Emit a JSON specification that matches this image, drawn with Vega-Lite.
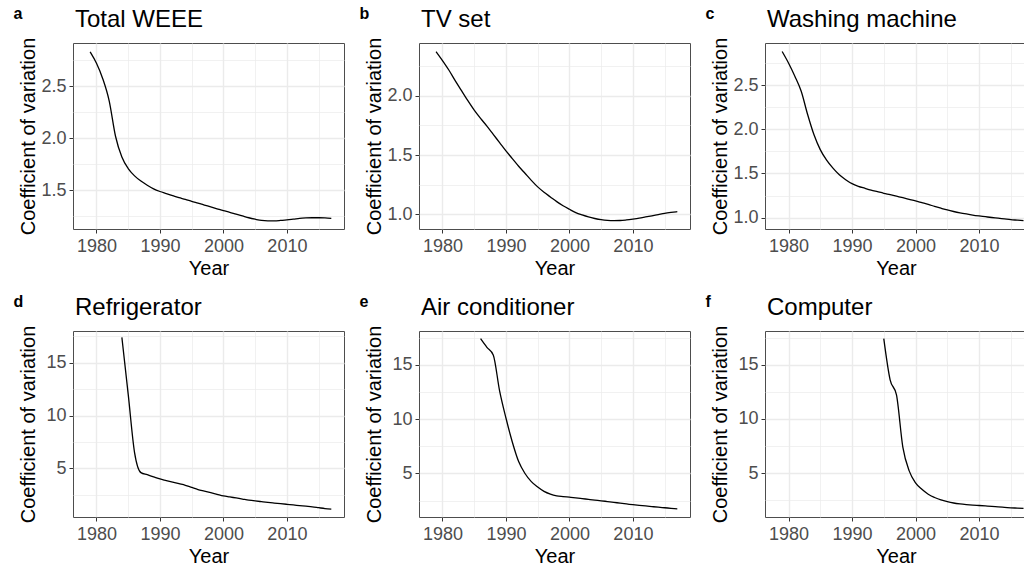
{
  "$schema": "https://vega.github.io/schema/vega-lite/v6.json",
  "background": "white",
  "padding": {"left": 13, "top": 5, "right": 0, "bottom": 0},
  "config": {
    "font": "Liberation Sans",
    "view": {"stroke": "#4d4d4d", "strokeWidth": 1},
    "axis": {
      "domain": false,
      "grid": true,
      "gridColor": "#ebebeb",
      "tickColor": "#333333",
      "tickSize": 4,
      "labelColor": "#4d4d4d",
      "labelFont": "Liberation Sans",
      "labelFontSize": 18,
      "labelOverlap": false,
      "labelFlush": false,
      "titleFont": "Liberation Sans",
      "titleFontSize": 20,
      "titleFontWeight": "normal",
      "titleColor": "#000000"
    },
    "axisX": {"labelPadding": 4, "titlePadding": 3},
    "axisY": {"labelPadding": 3, "titleX": -39, "titleBaseline": "alphabetic"},
    "line": {"color": "#000000", "strokeWidth": 1.3, "interpolate": "monotone", "clip": true}
  },
  "data": {"values": [
    {"panel":"a","year":1979,"cv":2.83},{"panel":"a","year":1980,"cv":2.72},{"panel":"a","year":1981,"cv":2.57},{"panel":"a","year":1982,"cv":2.36},{"panel":"a","year":1983,"cv":2.02},{"panel":"a","year":1984,"cv":1.82},{"panel":"a","year":1985,"cv":1.71},{"panel":"a","year":1986,"cv":1.64},{"panel":"a","year":1987,"cv":1.59},{"panel":"a","year":1988,"cv":1.55},{"panel":"a","year":1989,"cv":1.515},{"panel":"a","year":1990,"cv":1.49},{"panel":"a","year":1991,"cv":1.47},{"panel":"a","year":1992,"cv":1.45},{"panel":"a","year":1993,"cv":1.43},{"panel":"a","year":1994,"cv":1.415},{"panel":"a","year":1995,"cv":1.395},{"panel":"a","year":1996,"cv":1.378},{"panel":"a","year":1997,"cv":1.36},{"panel":"a","year":1998,"cv":1.342},{"panel":"a","year":1999,"cv":1.324},{"panel":"a","year":2000,"cv":1.306},{"panel":"a","year":2001,"cv":1.29},{"panel":"a","year":2002,"cv":1.272},{"panel":"a","year":2003,"cv":1.255},{"panel":"a","year":2004,"cv":1.238},{"panel":"a","year":2005,"cv":1.224},{"panel":"a","year":2006,"cv":1.212},{"panel":"a","year":2007,"cv":1.208},{"panel":"a","year":2008,"cv":1.208},{"panel":"a","year":2009,"cv":1.212},{"panel":"a","year":2010,"cv":1.218},{"panel":"a","year":2011,"cv":1.224},{"panel":"a","year":2012,"cv":1.232},{"panel":"a","year":2013,"cv":1.236},{"panel":"a","year":2014,"cv":1.238},{"panel":"a","year":2015,"cv":1.238},{"panel":"a","year":2016,"cv":1.236},{"panel":"a","year":2017,"cv":1.232},
    {"panel":"b","year":1979,"cv":2.375},{"panel":"b","year":1980,"cv":2.3},{"panel":"b","year":1981,"cv":2.22},{"panel":"b","year":1982,"cv":2.13},{"panel":"b","year":1983,"cv":2.045},{"panel":"b","year":1984,"cv":1.96},{"panel":"b","year":1985,"cv":1.88},{"panel":"b","year":1986,"cv":1.81},{"panel":"b","year":1987,"cv":1.745},{"panel":"b","year":1988,"cv":1.675},{"panel":"b","year":1989,"cv":1.605},{"panel":"b","year":1990,"cv":1.535},{"panel":"b","year":1991,"cv":1.47},{"panel":"b","year":1992,"cv":1.405},{"panel":"b","year":1993,"cv":1.345},{"panel":"b","year":1994,"cv":1.285},{"panel":"b","year":1995,"cv":1.23},{"panel":"b","year":1996,"cv":1.185},{"panel":"b","year":1997,"cv":1.145},{"panel":"b","year":1998,"cv":1.105},{"panel":"b","year":1999,"cv":1.07},{"panel":"b","year":2000,"cv":1.04},{"panel":"b","year":2001,"cv":1.012},{"panel":"b","year":2002,"cv":0.992},{"panel":"b","year":2003,"cv":0.975},{"panel":"b","year":2004,"cv":0.962},{"panel":"b","year":2005,"cv":0.952},{"panel":"b","year":2006,"cv":0.946},{"panel":"b","year":2007,"cv":0.944},{"panel":"b","year":2008,"cv":0.945},{"panel":"b","year":2009,"cv":0.95},{"panel":"b","year":2010,"cv":0.957},{"panel":"b","year":2011,"cv":0.965},{"panel":"b","year":2012,"cv":0.975},{"panel":"b","year":2013,"cv":0.985},{"panel":"b","year":2014,"cv":0.995},{"panel":"b","year":2015,"cv":1.005},{"panel":"b","year":2016,"cv":1.013},{"panel":"b","year":2017,"cv":1.02},
    {"panel":"c","year":1979,"cv":2.88},{"panel":"c","year":1980,"cv":2.75},{"panel":"c","year":1981,"cv":2.6},{"panel":"c","year":1982,"cv":2.43},{"panel":"c","year":1983,"cv":2.17},{"panel":"c","year":1984,"cv":1.94},{"panel":"c","year":1985,"cv":1.77},{"panel":"c","year":1986,"cv":1.65},{"panel":"c","year":1987,"cv":1.56},{"panel":"c","year":1988,"cv":1.485},{"panel":"c","year":1989,"cv":1.43},{"panel":"c","year":1990,"cv":1.385},{"panel":"c","year":1991,"cv":1.355},{"panel":"c","year":1992,"cv":1.333},{"panel":"c","year":1993,"cv":1.312},{"panel":"c","year":1994,"cv":1.294},{"panel":"c","year":1995,"cv":1.276},{"panel":"c","year":1996,"cv":1.26},{"panel":"c","year":1997,"cv":1.243},{"panel":"c","year":1998,"cv":1.226},{"panel":"c","year":1999,"cv":1.208},{"panel":"c","year":2000,"cv":1.19},{"panel":"c","year":2001,"cv":1.17},{"panel":"c","year":2002,"cv":1.15},{"panel":"c","year":2003,"cv":1.128},{"panel":"c","year":2004,"cv":1.107},{"panel":"c","year":2005,"cv":1.087},{"panel":"c","year":2006,"cv":1.07},{"panel":"c","year":2007,"cv":1.055},{"panel":"c","year":2008,"cv":1.042},{"panel":"c","year":2009,"cv":1.03},{"panel":"c","year":2010,"cv":1.02},{"panel":"c","year":2011,"cv":1.011},{"panel":"c","year":2012,"cv":1.002},{"panel":"c","year":2013,"cv":0.994},{"panel":"c","year":2014,"cv":0.986},{"panel":"c","year":2015,"cv":0.978},{"panel":"c","year":2016,"cv":0.972},{"panel":"c","year":2017,"cv":0.966},
    {"panel":"d","year":1984,"cv":17.4},{"panel":"d","year":1985,"cv":12.0},{"panel":"d","year":1986,"cv":6.5},{"panel":"d","year":1987,"cv":4.6},{"panel":"d","year":1988,"cv":4.4},{"panel":"d","year":1989,"cv":4.2},{"panel":"d","year":1990,"cv":4.0},{"panel":"d","year":1991,"cv":3.85},{"panel":"d","year":1992,"cv":3.7},{"panel":"d","year":1993,"cv":3.55},{"panel":"d","year":1994,"cv":3.4},{"panel":"d","year":1995,"cv":3.2},{"panel":"d","year":1996,"cv":3.0},{"panel":"d","year":1997,"cv":2.85},{"panel":"d","year":1998,"cv":2.7},{"panel":"d","year":1999,"cv":2.55},{"panel":"d","year":2000,"cv":2.4},{"panel":"d","year":2001,"cv":2.3},{"panel":"d","year":2002,"cv":2.2},{"panel":"d","year":2003,"cv":2.1},{"panel":"d","year":2004,"cv":2.0},{"panel":"d","year":2005,"cv":1.92},{"panel":"d","year":2006,"cv":1.85},{"panel":"d","year":2007,"cv":1.78},{"panel":"d","year":2008,"cv":1.72},{"panel":"d","year":2009,"cv":1.66},{"panel":"d","year":2010,"cv":1.6},{"panel":"d","year":2011,"cv":1.54},{"panel":"d","year":2012,"cv":1.48},{"panel":"d","year":2013,"cv":1.42},{"panel":"d","year":2014,"cv":1.36},{"panel":"d","year":2015,"cv":1.28},{"panel":"d","year":2016,"cv":1.2},{"panel":"d","year":2017,"cv":1.15},
    {"panel":"e","year":1986,"cv":17.4},{"panel":"e","year":1987,"cv":16.6},{"panel":"e","year":1988,"cv":15.9},{"panel":"e","year":1989,"cv":12.6},{"panel":"e","year":1990,"cv":10.1},{"panel":"e","year":1991,"cv":7.9},{"panel":"e","year":1992,"cv":6.1},{"panel":"e","year":1993,"cv":5.0},{"panel":"e","year":1994,"cv":4.25},{"panel":"e","year":1995,"cv":3.75},{"panel":"e","year":1996,"cv":3.35},{"panel":"e","year":1997,"cv":3.1},{"panel":"e","year":1998,"cv":2.95},{"panel":"e","year":1999,"cv":2.88},{"panel":"e","year":2000,"cv":2.82},{"panel":"e","year":2001,"cv":2.76},{"panel":"e","year":2002,"cv":2.69},{"panel":"e","year":2003,"cv":2.62},{"panel":"e","year":2004,"cv":2.55},{"panel":"e","year":2005,"cv":2.49},{"panel":"e","year":2006,"cv":2.42},{"panel":"e","year":2007,"cv":2.35},{"panel":"e","year":2008,"cv":2.27},{"panel":"e","year":2009,"cv":2.2},{"panel":"e","year":2010,"cv":2.13},{"panel":"e","year":2011,"cv":2.07},{"panel":"e","year":2012,"cv":2.02},{"panel":"e","year":2013,"cv":1.96},{"panel":"e","year":2014,"cv":1.9},{"panel":"e","year":2015,"cv":1.85},{"panel":"e","year":2016,"cv":1.8},{"panel":"e","year":2017,"cv":1.75},
    {"panel":"f","year":1995,"cv":17.4},{"panel":"f","year":1996,"cv":13.6},{"panel":"f","year":1997,"cv":12.2},{"panel":"f","year":1998,"cv":7.4},{"panel":"f","year":1999,"cv":5.2},{"panel":"f","year":2000,"cv":4.1},{"panel":"f","year":2001,"cv":3.5},{"panel":"f","year":2002,"cv":3.05},{"panel":"f","year":2003,"cv":2.75},{"panel":"f","year":2004,"cv":2.52},{"panel":"f","year":2005,"cv":2.36},{"panel":"f","year":2006,"cv":2.24},{"panel":"f","year":2007,"cv":2.16},{"panel":"f","year":2008,"cv":2.1},{"panel":"f","year":2009,"cv":2.05},{"panel":"f","year":2010,"cv":2.01},{"panel":"f","year":2011,"cv":1.97},{"panel":"f","year":2012,"cv":1.93},{"panel":"f","year":2013,"cv":1.88},{"panel":"f","year":2014,"cv":1.84},{"panel":"f","year":2015,"cv":1.8},{"panel":"f","year":2016,"cv":1.77},{"panel":"f","year":2017,"cv":1.74}
  ]},
  "columns": 3,
  "spacing": {"column": 14, "row": 14},
  "concat": [
    {
      "title": {"text": "a", "anchor": "start", "frame": "bounds", "fontSize": 16, "fontWeight": "bold", "color": "#000000", "baseline": "alphabetic", "offset": -27, "dx": -4},
      "vconcat": [{
        "title": {"text": "Total WEEE", "anchor": "start", "frame": "group", "fontSize": 24, "fontWeight": "normal", "color": "#000000", "baseline": "alphabetic", "offset": -14, "dx": 2},
        "width": 271, "height": 186,
        "transform": [{"filter": "datum.panel === 'a'"}],
        "mark": {"type": "line"},
        "encoding": {
          "x": {"field": "year", "type": "quantitative", "title": "Year",
            "scale": {"domain": [1976.3, 2019.0], "nice": false, "zero": false},
            "axis": {"values": [1980,1985,1990,1995,2000,2005,2010,2015],
              "labelExpr": "datum.value % 10 === 0 ? '' + datum.value : ''",
              "gridWidth": {"condition": {"test": "datum.value % 10 === 0", "value": 1.4}, "value": 0.7},
              "tickOpacity": {"condition": {"test": "datum.value % 10 === 0", "value": 1}, "value": 0}}},
          "y": {"field": "cv", "type": "quantitative", "title": "Coefficient of variation",
            "scale": {"domain": [1.13, 2.915], "nice": false, "zero": false},
            "axis": {"values": [1.25,1.5,1.75,2,2.25,2.5,2.75],
              "labelExpr": "(datum.value * 2) % 1 === 0 ? format(datum.value, '.1f') : ''",
              "gridWidth": {"condition": {"test": "(datum.value * 2) % 1 === 0", "value": 1.4}, "value": 0.7},
              "tickOpacity": {"condition": {"test": "(datum.value * 2) % 1 === 0", "value": 1}, "value": 0}}}
        }
      }]
    },
    {
      "title": {"text": "b", "anchor": "start", "frame": "bounds", "fontSize": 16, "fontWeight": "bold", "color": "#000000", "baseline": "alphabetic", "offset": -27, "dx": -4},
      "vconcat": [{
        "title": {"text": "TV set", "anchor": "start", "frame": "group", "fontSize": 24, "fontWeight": "normal", "color": "#000000", "baseline": "alphabetic", "offset": -14, "dx": 2},
        "width": 271, "height": 186,
        "transform": [{"filter": "datum.panel === 'b'"}],
        "mark": {"type": "line"},
        "encoding": {
          "x": {"field": "year", "type": "quantitative", "title": "Year",
            "scale": {"domain": [1976.3, 2019.0], "nice": false, "zero": false},
            "axis": {"values": [1980,1985,1990,1995,2000,2005,2010,2015],
              "labelExpr": "datum.value % 10 === 0 ? '' + datum.value : ''",
              "gridWidth": {"condition": {"test": "datum.value % 10 === 0", "value": 1.4}, "value": 0.7},
              "tickOpacity": {"condition": {"test": "datum.value % 10 === 0", "value": 1}, "value": 0}}},
          "y": {"field": "cv", "type": "quantitative", "title": "Coefficient of variation",
            "scale": {"domain": [0.873, 2.449], "nice": false, "zero": false},
            "axis": {"values": [1,1.25,1.5,1.75,2,2.25],
              "labelExpr": "(datum.value * 2) % 1 === 0 ? format(datum.value, '.1f') : ''",
              "gridWidth": {"condition": {"test": "(datum.value * 2) % 1 === 0", "value": 1.4}, "value": 0.7},
              "tickOpacity": {"condition": {"test": "(datum.value * 2) % 1 === 0", "value": 1}, "value": 0}}}
        }
      }]
    },
    {
      "title": {"text": "c", "anchor": "start", "frame": "bounds", "fontSize": 16, "fontWeight": "bold", "color": "#000000", "baseline": "alphabetic", "offset": -27, "dx": -4},
      "vconcat": [{
        "title": {"text": "Washing machine", "anchor": "start", "frame": "group", "fontSize": 24, "fontWeight": "normal", "color": "#000000", "baseline": "alphabetic", "offset": -14, "dx": 2},
        "width": 262, "height": 186,
        "transform": [{"filter": "datum.panel === 'c'"}],
        "mark": {"type": "line"},
        "encoding": {
          "x": {"field": "year", "type": "quantitative", "title": "Year",
            "scale": {"domain": [1976.3, 2017.55], "nice": false, "zero": false},
            "axis": {"values": [1980,1985,1990,1995,2000,2005,2010,2015],
              "labelExpr": "datum.value % 10 === 0 ? '' + datum.value : ''",
              "gridWidth": {"condition": {"test": "datum.value % 10 === 0", "value": 1.4}, "value": 0.7},
              "tickOpacity": {"condition": {"test": "datum.value % 10 === 0", "value": 1}, "value": 0}}},
          "y": {"field": "cv", "type": "quantitative", "title": "Coefficient of variation",
            "scale": {"domain": [0.872, 2.976], "nice": false, "zero": false},
            "axis": {"values": [1,1.25,1.5,1.75,2,2.25,2.5,2.75],
              "labelExpr": "(datum.value * 2) % 1 === 0 ? format(datum.value, '.1f') : ''",
              "gridWidth": {"condition": {"test": "(datum.value * 2) % 1 === 0", "value": 1.4}, "value": 0.7},
              "tickOpacity": {"condition": {"test": "(datum.value * 2) % 1 === 0", "value": 1}, "value": 0}}}
        }
      }]
    },
    {
      "title": {"text": "d", "anchor": "start", "frame": "bounds", "fontSize": 16, "fontWeight": "bold", "color": "#000000", "baseline": "alphabetic", "offset": -27, "dx": -4},
      "vconcat": [{
        "title": {"text": "Refrigerator", "anchor": "start", "frame": "group", "fontSize": 24, "fontWeight": "normal", "color": "#000000", "baseline": "alphabetic", "offset": -14, "dx": 2},
        "width": 271, "height": 186,
        "transform": [{"filter": "datum.panel === 'd'"}],
        "mark": {"type": "line"},
        "encoding": {
          "x": {"field": "year", "type": "quantitative", "title": "Year",
            "scale": {"domain": [1976.3, 2019.0], "nice": false, "zero": false},
            "axis": {"values": [1980,1985,1990,1995,2000,2005,2010,2015],
              "labelExpr": "datum.value % 10 === 0 ? '' + datum.value : ''",
              "gridWidth": {"condition": {"test": "datum.value % 10 === 0", "value": 1.4}, "value": 0.7},
              "tickOpacity": {"condition": {"test": "datum.value % 10 === 0", "value": 1}, "value": 0}}},
          "y": {"field": "cv", "type": "quantitative", "title": "Coefficient of variation",
            "scale": {"domain": [0.4, 18.0], "nice": false, "zero": false},
            "axis": {"values": [2.5,5,7.5,10,12.5,15,17.5],
              "labelExpr": "datum.value % 5 === 0 ? '' + datum.value : ''",
              "gridWidth": {"condition": {"test": "datum.value % 5 === 0", "value": 1.4}, "value": 0.7},
              "tickOpacity": {"condition": {"test": "datum.value % 5 === 0", "value": 1}, "value": 0}}}
        }
      }]
    },
    {
      "title": {"text": "e", "anchor": "start", "frame": "bounds", "fontSize": 16, "fontWeight": "bold", "color": "#000000", "baseline": "alphabetic", "offset": -27, "dx": -4},
      "vconcat": [{
        "title": {"text": "Air conditioner", "anchor": "start", "frame": "group", "fontSize": 24, "fontWeight": "normal", "color": "#000000", "baseline": "alphabetic", "offset": -14, "dx": 2},
        "width": 271, "height": 186,
        "transform": [{"filter": "datum.panel === 'e'"}],
        "mark": {"type": "line"},
        "encoding": {
          "x": {"field": "year", "type": "quantitative", "title": "Year",
            "scale": {"domain": [1976.3, 2019.0], "nice": false, "zero": false},
            "axis": {"values": [1980,1985,1990,1995,2000,2005,2010,2015],
              "labelExpr": "datum.value % 10 === 0 ? '' + datum.value : ''",
              "gridWidth": {"condition": {"test": "datum.value % 10 === 0", "value": 1.4}, "value": 0.7},
              "tickOpacity": {"condition": {"test": "datum.value % 10 === 0", "value": 1}, "value": 0}}},
          "y": {"field": "cv", "type": "quantitative", "title": "Coefficient of variation",
            "scale": {"domain": [1.0, 18.1], "nice": false, "zero": false},
            "axis": {"values": [2.5,5,7.5,10,12.5,15,17.5],
              "labelExpr": "datum.value % 5 === 0 ? '' + datum.value : ''",
              "gridWidth": {"condition": {"test": "datum.value % 5 === 0", "value": 1.4}, "value": 0.7},
              "tickOpacity": {"condition": {"test": "datum.value % 5 === 0", "value": 1}, "value": 0}}}
        }
      }]
    },
    {
      "title": {"text": "f", "anchor": "start", "frame": "bounds", "fontSize": 16, "fontWeight": "bold", "color": "#000000", "baseline": "alphabetic", "offset": -27, "dx": -4},
      "vconcat": [{
        "title": {"text": "Computer", "anchor": "start", "frame": "group", "fontSize": 24, "fontWeight": "normal", "color": "#000000", "baseline": "alphabetic", "offset": -14, "dx": 2},
        "width": 262, "height": 186,
        "transform": [{"filter": "datum.panel === 'f'"}],
        "mark": {"type": "line"},
        "encoding": {
          "x": {"field": "year", "type": "quantitative", "title": "Year",
            "scale": {"domain": [1976.3, 2017.55], "nice": false, "zero": false},
            "axis": {"values": [1980,1985,1990,1995,2000,2005,2010,2015],
              "labelExpr": "datum.value % 10 === 0 ? '' + datum.value : ''",
              "gridWidth": {"condition": {"test": "datum.value % 10 === 0", "value": 1.4}, "value": 0.7},
              "tickOpacity": {"condition": {"test": "datum.value % 10 === 0", "value": 1}, "value": 0}}},
          "y": {"field": "cv", "type": "quantitative", "title": "Coefficient of variation",
            "scale": {"domain": [0.95, 18.1], "nice": false, "zero": false},
            "axis": {"values": [2.5,5,7.5,10,12.5,15,17.5],
              "labelExpr": "datum.value % 5 === 0 ? '' + datum.value : ''",
              "gridWidth": {"condition": {"test": "datum.value % 5 === 0", "value": 1.4}, "value": 0.7},
              "tickOpacity": {"condition": {"test": "datum.value % 5 === 0", "value": 1}, "value": 0}}}
        }
      }]
    }
  ]
}
